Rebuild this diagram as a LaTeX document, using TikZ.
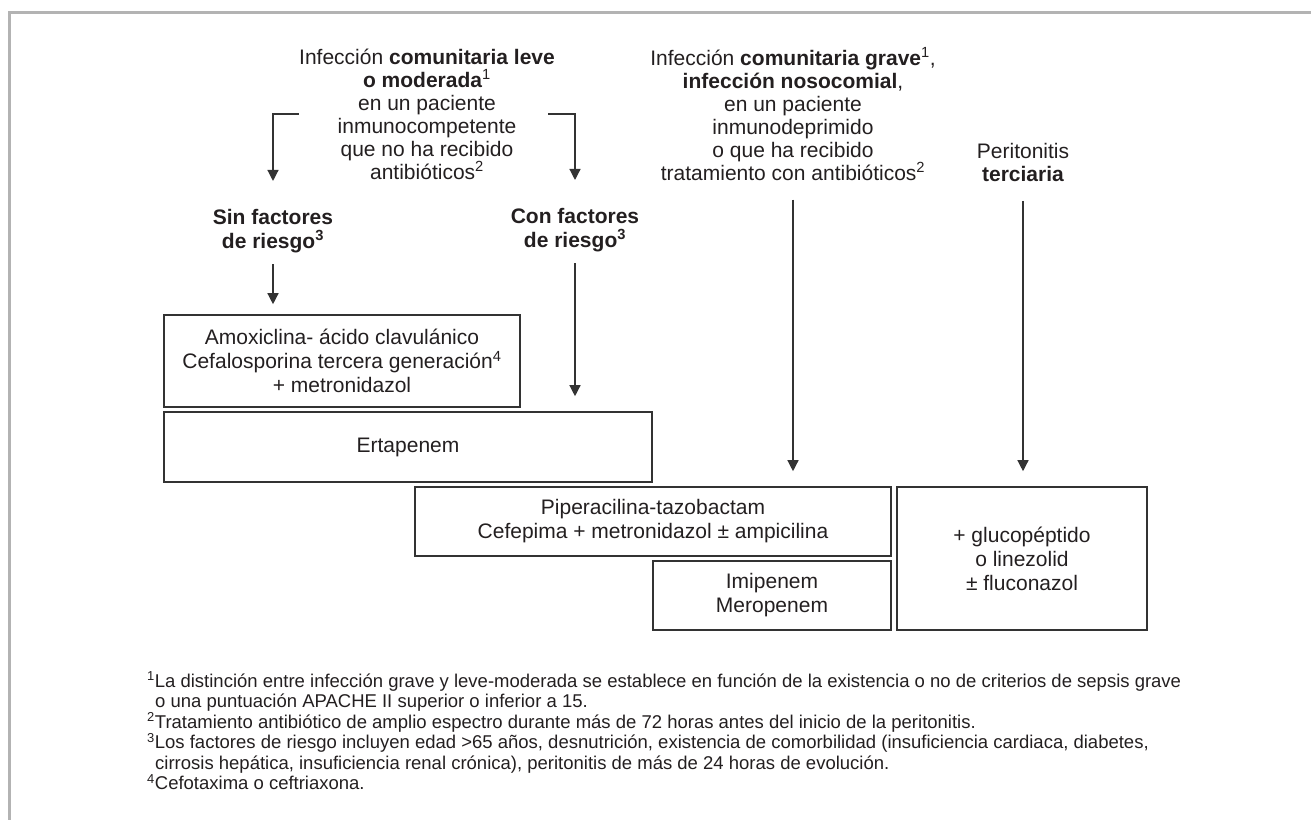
\documentclass[tikz,border=0pt]{standalone}
\usepackage{fontspec}
\setmainfont{Liberation Sans}
\usetikzlibrary{arrows.meta}

\definecolor{linea}{HTML}{333333}
\definecolor{marco}{HTML}{B3B3B3}
\definecolor{texto}{HTML}{231F20}

\tikzset{
  txt/.style={inner sep=0pt, align=center, font=\fontsize{21}{23}\selectfont},
  grupo/.style={inner sep=0pt, align=center, font=\bfseries\fontsize{21}{24}\selectfont},
  caja/.style={draw=linea, line width=1.6pt, inner sep=0pt, align=center, font=\fontsize{21}{24}\selectfont},
  flecha/.style={draw=linea, line width=1.3pt, -{Triangle[width=11pt,length=11pt]}},
  nota/.style={anchor=base west, inner sep=0pt, font=\fontsize{18.5}{20.5}\selectfont}
}

\begin{document}
\begin{tikzpicture}[x=1pt,y=-1pt,text=texto]
    % Marco
    \useasboundingbox (0,0) rectangle (1311,820);
    \draw[marco, line width=3pt] (1311,12) -- (9,12) -- (9,820);

    % Tipos de infeccion
    \node[txt] (inf1) at (427,114) {Infección \textbf{comunitaria leve}\\ \textbf{o moderada}\textsuperscript{1}\\ en un paciente\\ inmunocompetente\\ que no ha recibido\\ antibióticos\textsuperscript{2}};
    \node[txt] (inf2) at (793,114) {Infección \textbf{comunitaria grave}\textsuperscript{1},\\ \textbf{infección nosocomial},\\ en un paciente\\ inmunodeprimido\\ o que ha recibido\\ tratamiento con antibióticos\textsuperscript{2}};
    \node[txt] (peri) at (1023,162.5) {Peritonitis\\ \textbf{terciaria}};

    % Factores de riesgo
    \node[grupo] (sin) at (273,231) {Sin factores\\ de riesgo\textsuperscript{3}};
    \node[grupo] (con) at (575,230) {Con factores\\ de riesgo\textsuperscript{3}};

    % Tratamientos
    \node[caja, minimum width=356pt, minimum height=92pt] (amox) at (342,361) {Amoxiclina- ácido clavulánico\\ Cefalosporina tercera generación\textsuperscript{4}\\ + metronidazol};
    \node[caja, minimum width=488pt, minimum height=70pt] (erta) at (408,447) {Ertapenem};
    \node[caja, minimum width=476pt, minimum height=69pt] (pip) at (653,521.5) {Piperacilina-tazobactam\\ Cefepima + metronidazol ± ampicilina};
    \node[caja, minimum width=238pt, minimum height=69pt] (imip) at (772,595.5) {Imipenem\\ Meropenem};
    \node[caja, minimum width=250pt, minimum height=143pt] (glu) at (1022,558.5) {+ glucopéptido\\ o linezolid\\ ± fluconazol};

    % Flechas
    \draw[flecha, shorten >=28pt] (inf1.west) -| (sin);
    \draw[flecha, shorten >=28pt] ([xshift=-7pt]inf1.east) -| (con);
    \draw[flecha, shorten <=11pt, shorten >=10pt] (sin.south) -- (sin.south |- amox.north);
    \draw[flecha, shorten <=11pt, shorten >=15pt] (con.south) -- (con.south |- erta.north);
    \draw[flecha, shorten <=19pt, shorten >=15pt] (inf2.south) -- (inf2.south |- pip.north);
    \draw[flecha, shorten <=19pt, shorten >=15pt] (peri.south) -- (peri.south |- glu.north);

    % Notas
    \node[nota] (n1) at (147,687) {\textsuperscript{1}La distinción entre infección grave y leve-moderada se establece en función de la existencia o no de criterios de sepsis grave};
    \node[nota] (n1b) at (155,707.5) {o una puntuación APACHE II superior o inferior a 15.};
    \node[nota] (n2) at (147,728) {\textsuperscript{2}Tratamiento antibiótico de amplio espectro durante más de 72 horas antes del inicio de la peritonitis.};
    \node[nota] (n3) at (147,748.5) {\textsuperscript{3}Los factores de riesgo incluyen edad >65 años, desnutrición, existencia de comorbilidad (insuficiencia cardiaca, diabetes,};
    \node[nota] (n3b) at (155,769) {cirrosis hepática, insuficiencia renal crónica), peritonitis de más de 24 horas de evolución.};
    \node[nota] (n4) at (147,789.5) {\textsuperscript{4}Cefotaxima o ceftriaxona.};
\end{tikzpicture}
\end{document}
